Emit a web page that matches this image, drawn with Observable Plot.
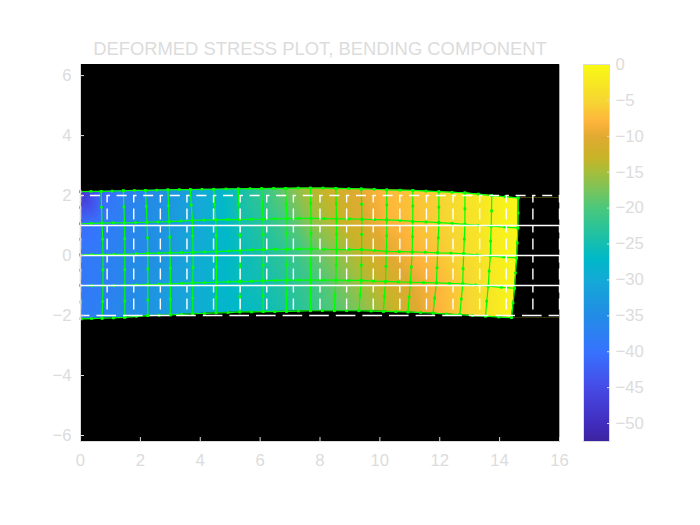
<!DOCTYPE html>
<html><head><meta charset="utf-8">
<script src="https://cdn.jsdelivr.net/npm/d3@7"></script>
<script src="https://cdn.jsdelivr.net/npm/@observablehq/plot@0.6"></script>
<style>
html,body{margin:0;padding:0;background:#fff;width:700px;height:525px;overflow:hidden}
#main,#bar{position:absolute;left:0;top:0}
</style></head><body><div id="main"></div><div id="bar"></div>
<script>
const titleText = "DEFORMED STRESS PLOT, BENDING COMPONENT";
const xTicks = [0,2,4,6,8,10,12,14,16];
const yTicks = [-6,-4,-2,0,2,4,6];
const barTicks = [0,-5,-10,-15,-20,-25,-30,-35,-40,-45,-50];
const undeformedX = [0,.889,1.778,2.667,3.556,4.444,5.333,6.222,7.111,8,8.889,9.778,10.667,11.556,12.444,13.333,14.222,15.111,16];
const undeformedSolidY = [-1,0,1];

// deformed mesh: corner nodes, one array per row (top to bottom)
const x2 = [0,.69,1.43,2.17,2.92,3.67,4.45,5.27,6.05,6.85,7.68,8.53,9.38,10.23,11.10,11.97,12.84,13.74,14.62];
const x1 = [0,.72,1.47,2.22,2.96,3.74,4.52,5.31,6.10,6.90,7.70,8.55,9.40,10.23,11.10,11.97,12.84,13.72,14.61];
const x0 = [0,.75,1.48,2.25,2.99,3.76,4.54,5.33,6.11,6.91,7.70,8.55,9.39,10.22,11.08,11.93,12.80,13.69,14.57];
const xm1 = [0,.75,1.48,2.25,3.00,3.75,4.54,5.32,6.10,6.90,7.68,8.53,9.38,10.19,11.02,11.89,12.77,13.62,14.50];
const xm2 = [.02,.72,1.48,2.25,3.00,3.75,4.53,5.32,6.10,6.88,7.68,8.48,9.30,10.12,10.94,11.78,12.67,13.53,14.40];
const y2 = [2.13,2.14,2.16,2.17,2.19,2.20,2.21,2.22,2.23,2.24,2.25,2.24,2.22,2.19,2.17,2.13,2.09,2.00,1.92];
const y1 = [1.06,1.08,1.09,1.11,1.13,1.17,1.19,1.20,1.21,1.23,1.24,1.22,1.21,1.19,1.14,1.10,1.04,.98,.92];
const y0 = [.02,.03,.04,.07,.09,.11,.13,.17,.20,.21,.22,.20,.20,.14,.12,.09,.06,-.02,-.08];
const ym1 = [-1.0,-1.0,-.99,-.97,-.94,-.91,-.89,-.87,-.84,-.82,-.81,-.82,-.83,-.86,-.89,-.91,-.94,-1.02,-1.09];
const ym2 = [-2.11,-2.09,-2.06,-2.0,-1.98,-1.94,-1.91,-1.88,-1.87,-1.86,-1.84,-1.84,-1.84,-1.86,-1.88,-1.92,-1.97,-2.02,-2.07];

// stress at the corner nodes, per row
const s2 = [-49,-42,-38,-36,-34,-31,-29,-25,-22,-18,-14,-12,-9.5,-7.5,-6.5,-5.5,-3.5,-2,-0.5];
const s1 = [-41,-39,-37,-35,-33,-31,-28,-25,-23,-20,-16,-13.5,-10.5,-8,-7,-5.5,-4,-2,-0.5];
const s0 = [-39,-38,-36,-35,-33,-30,-28,-26,-24,-22,-19,-16,-13,-10,-8,-6.5,-4.5,-2.5,-0.5];
const sm1 = [-39,-38,-36,-34,-32,-30,-28,-26,-25,-23,-21,-18,-15,-12.5,-10,-8,-5.5,-3,-0.5];
const sm2 = [-38,-37,-35,-34,-32,-30,-28,-27,-26,-24,-22,-19.5,-17,-14.5,-11.5,-8.5,-6,-3.5,-1];

// mid-side nodes along the rows
const mx2 = [.35,1.06,1.80,2.55,3.30,4.06,4.86,5.66,6.45,7.27,8.10,8.96,9.81,10.67,11.54,12.41,13.29,14.18];
const mx1 = [.36,1.10,1.85,2.59,3.35,4.13,4.92,5.71,6.50,7.30,8.13,8.98,9.82,10.67,11.54,12.41,13.28,14.17];
const mx0 = [.38,1.12,1.87,2.62,3.38,4.15,4.94,5.72,6.51,7.31,8.13,8.97,9.81,10.65,11.51,12.37,13.25,14.13];
const mxm1 = [.38,1.12,1.87,2.63,3.38,4.15,4.93,5.71,6.50,7.29,8.11,8.96,9.79,10.61,11.46,12.33,13.20,14.06];
const mxm2 = [.37,1.10,1.87,2.63,3.38,4.14,4.93,5.71,6.49,7.28,8.08,8.89,9.71,10.53,11.36,12.23,13.10,13.97];
const my2 = [2.14,2.15,2.17,2.18,2.20,2.21,2.22,2.23,2.24,2.25,2.25,2.23,2.21,2.18,2.15,2.11,2.05,1.96];
const my1 = [1.07,1.09,1.10,1.12,1.15,1.18,1.20,1.21,1.22,1.24,1.23,1.22,1.20,1.17,1.12,1.07,1.01,.95];
const my0 = [.03,.04,.06,.08,.10,.12,.15,.19,.21,.22,.21,.20,.17,.13,.11,.08,.02,-.05];
const mym1 = [-1.0,-1.0,-.98,-.96,-.93,-.90,-.88,-.86,-.83,-.82,-.82,-.83,-.85,-.88,-.90,-.93,-.98,-1.06];
const mym2 = [-2.10,-2.08,-2.03,-1.99,-1.96,-1.93,-1.90,-1.88,-1.87,-1.85,-1.84,-1.84,-1.85,-1.87,-1.90,-1.95,-2.00,-2.05];
// mid-side nodes along the columns
const vxa = [0,.70,1.45,2.20,2.94,3.70,4.48,5.29,6.07,6.87,7.69,8.54,9.39,10.23,11.10,11.97,12.84,13.73,14.62];
const vxb = [0,.74,1.48,2.24,2.98,3.75,4.53,5.32,6.10,6.90,7.70,8.55,9.39,10.23,11.09,11.95,12.82,13.70,14.59];
const vxc = [0,.75,1.48,2.25,3.00,3.76,4.54,5.33,6.10,6.90,7.69,8.54,9.38,10.20,11.05,11.91,12.78,13.65,14.53];
const vxd = [.01,.74,1.48,2.25,3.00,3.75,4.53,5.32,6.10,6.89,7.69,8.50,9.34,10.15,10.98,11.83,12.72,13.57,14.45];
const vya = [1.60,1.61,1.62,1.64,1.66,1.68,1.70,1.71,1.72,1.73,1.74,1.73,1.71,1.69,1.65,1.61,1.56,1.49,1.42];
const vyb = [.54,.55,.56,.59,.61,.64,.66,.68,.70,.72,.73,.71,.70,.66,.63,.59,.55,.48,.42];
const vyc = [-.49,-.48,-.47,-.45,-.42,-.40,-.38,-.35,-.32,-.30,-.29,-.31,-.32,-.36,-.38,-.41,-.44,-.52,-.58];
const vyd = [-1.55,-1.54,-1.52,-1.48,-1.46,-1.42,-1.40,-1.37,-1.35,-1.34,-1.33,-1.33,-1.33,-1.36,-1.38,-1.42,-1.45,-1.52,-1.58];

const colorDomain = [-52.5,-50,-45,-40,-35,-30,-27,-23,-20,-17,-15,-13,-10,-8,-5,0];
const colorRange = ["#3c23a0","#412dbe","#464be6","#3773ff","#238ce6","#14aad7","#00b9c8","#28c39b","#4bc87d","#82c355","#a5be3c","#c8b428","#e1aa32","#feb43c","#f6d732","#f9fb14"];

const pts = (xs, ys) => xs.map((x, i) => ({x, y: ys[i]}));
const rows = [[x2,y2,s2],[x1,y1,s1],[x0,y0,s0],[xm1,ym1,sm1],[xm2,ym2,sm2]];
const nodes = rows.flatMap(([xs,ys,ss]) => xs.map((x,i) => ({x, y: ys[i], v: ss[i]})));
const rowLines = rows.flatMap(([xs,ys],r) => {
  const mids = [[mx2,my2],[mx1,my1],[mx0,my0],[mxm1,mym1],[mxm2,mym2]][r];
  return xs.flatMap((x,i) => i < mids[0].length
    ? [{x, y: ys[i], id: "r"+r},{x: mids[0][i], y: mids[1][i], id: "r"+r}]
    : [{x, y: ys[i], id: "r"+r}]);
});
const colLines = x2.flatMap((_,c) => [
  [x2,y2],[vxa,vya],[x1,y1],[vxb,vyb],[x0,y0],[vxc,vyc],[xm1,ym1],[vxd,vyd],[xm2,ym2]
].map(([xs,ys]) => ({x: xs[c], y: ys[c], id: "c"+c})));
const allNodes = [...rowLines, ...colLines];

const xMax = 16, yTop = 6.37, yBot = -6.2;
const lastOf = a => a[a.length-1];
const topEdge = [...pts(x2,y2), {x: xMax, y: lastOf(y2)}];
const botEdge = [...pts(xm2,ym2), {x: xMax, y: lastOf(ym2)}];
const rightEdge = [[x2,y2],[x1,y1],[x0,y0],[xm1,ym1],[xm2,ym2]].map(([xs,ys]) => ({x: lastOf(xs), y: lastOf(ys)}));

const green = "#00ff00", axisGrey = "#dcdcdc";
const fontSize = 16.7;

const main = Plot.plot({
  width: 700, height: 525,
  marginLeft: 80, marginRight: 141, marginTop: 64, marginBottom: 84,
  style: {fontFamily: "'Liberation Sans', Arial, sans-serif", background: "transparent"},
  x: {domain: [0, xMax]},
  y: {domain: [yBot, yTop]},
  color: {type: "linear", domain: colorDomain, range: colorRange, clamp: true},
  marks: [
    Plot.frame({fill: "black", stroke: "none"}),
    Plot.raster(nodes, {x: "x", y: "y", fill: "v", interpolate: "barycentric", x1: 0, x2: xMax, y1: yBot, y2: yTop}),
    Plot.areaY(topEdge, {x: "x", y1: "y", y2: yTop, fill: "black"}),
    Plot.areaY(botEdge, {x: "x", y1: "y", y2: yBot, fill: "black"}),
    Plot.areaX(rightEdge, {y: "y", x1: "x", x2: xMax, fill: "black"}),
    Plot.line(rowLines, {x: "x", y: "y", z: "id", stroke: green, strokeWidth: 1.2}),
    Plot.line(colLines, {x: "x", y: "y", z: "id", stroke: green, strokeWidth: 1.2}),
    Plot.dot(allNodes, {x: "x", y: "y", symbol: "square", r: 1.5, fill: green}),
    Plot.ruleX(undeformedX, {y1: 2, y2: -2, stroke: "white", strokeWidth: 1.4, strokeDasharray: "7.5,6,11,5.5"}),
    Plot.ruleY(undeformedSolidY, {x1: 0, x2: xMax, stroke: "white", strokeWidth: 1.4}),
    Plot.ruleY([2], {x1: 0, x2: xMax, stroke: "white", strokeWidth: 1.4, strokeDasharray: "3.3,6.7,10,6.6"}),
    Plot.ruleY([-2], {x1: 0, x2: xMax, stroke: "white", strokeWidth: 1.4, strokeDasharray: "9.4,7,10.2,0"}),
    Plot.axisX(xTicks, {anchor: "bottom", tickSize: -4, tickPadding: 17, stroke: axisGrey, color: axisGrey, fontSize, label: null}),
    Plot.axisY(yTicks, {anchor: "left", tickSize: -4, tickPadding: 13, stroke: axisGrey, color: axisGrey, fontSize, label: null}),
    Plot.ruleX([0], {stroke: axisGrey}),
    Plot.ruleY([yBot], {stroke: axisGrey}),
    Plot.text([titleText], {frameAnchor: "top", dy: -23, fontSize: 18.4, fill: axisGrey})
  ]
});
document.getElementById("main").append(main);

const bar = Plot.plot({
  width: 700, height: 525,
  marginLeft: 583, marginRight: 91, marginTop: 64, marginBottom: 84,
  style: {fontFamily: "'Liberation Sans', Arial, sans-serif", background: "transparent"},
  x: {domain: [0,1], axis: null},
  y: {domain: [-52.5,0]},
  color: {type: "linear", domain: colorDomain, range: colorRange},
  marks: [
    Plot.raster({x1: 0, x2: 1, y1: -52.5, y2: 0, width: 1, height: 377, fill: (x,y) => y}),
    Plot.axisY(barTicks, {anchor: "right", tickSize: -3, tickPadding: 9, stroke: axisGrey, color: axisGrey, fontSize, textAnchor: "start", label: null}),
    Plot.frame({stroke: axisGrey})
  ]
});
document.getElementById("bar").append(bar);
</script></body></html>
